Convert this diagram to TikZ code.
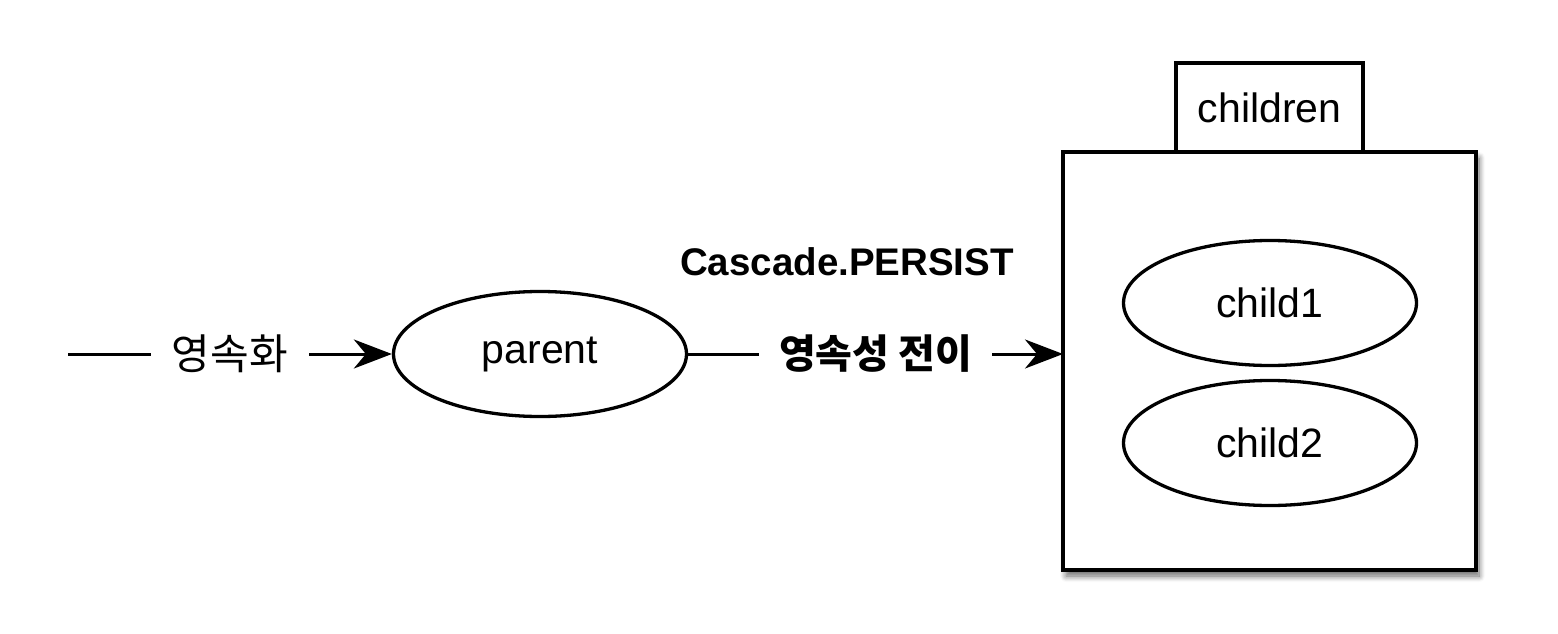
\documentclass[tikz,border=0pt]{standalone}
\usepackage{fontspec}
\setmainfont{Liberation Sans}
\newfontfamily\krfont{Noto Sans CJK KR}
\usetikzlibrary{shapes.geometric,arrows.meta,shadows.blur}
\newcommand\mytext[1]{%
  \fontsize{41}{43}\selectfont%
  #1%
}

\begin{document}
\begin{tikzpicture}[x=1pt,y=-1pt]
  \useasboundingbox (0,0) rectangle (1558,634);

  \tikzstyle{oval}=[ellipse,draw,line width=3.3pt,minimum width=293pt,minimum height=125pt,inner sep=0pt]
  \tikzstyle{conn}=[line width=3pt,-{Stealth[length=38pt,width=29pt,inset=12pt]}]
  \tikzstyle{gap}=[fill=white,inner ysep=0pt,inner xsep=20pt]

  \node[oval] (parent) at (540,354) {\mytext{parent}};

  % the collection box with its tab
  \node[draw,fill=white,line width=4pt,outer sep=0pt,minimum width=413pt,minimum height=418pt,
        blur shadow={shadow xshift=3pt,shadow yshift=-6pt,shadow blur radius=6pt,shadow blur steps=8,shadow opacity=60}] (box) at (1269.5,361) {};
  \node[draw,fill=white,line width=3.5pt,outer sep=0pt,minimum width=187pt,minimum height=89pt,
        anchor=south] (tab) at (box.north) {\mytext{children}};

  \node[oval] (child1) at (1270,303) {\mytext{child1}};
  \node[oval] (child2) at (1270,443) {\mytext{child2}};

  \node (cascade) at (847,262) {\bfseries\fontsize{38.5}{40}\selectfont Cascade.PERSIST};

  \coordinate (start) at (68,354);
  \draw[conn] (start) -- (parent.west) node[midway,gap,inner xsep=21pt] {\krfont\fontsize{42}{44}\selectfont 영속화};
  \draw[conn] (parent.east) -- (parent.east -| box.west)
    node[midway,gap] {\krfont\bfseries\fontsize{40}{42}\selectfont 영속성 전이};

\end{tikzpicture}
\end{document}
